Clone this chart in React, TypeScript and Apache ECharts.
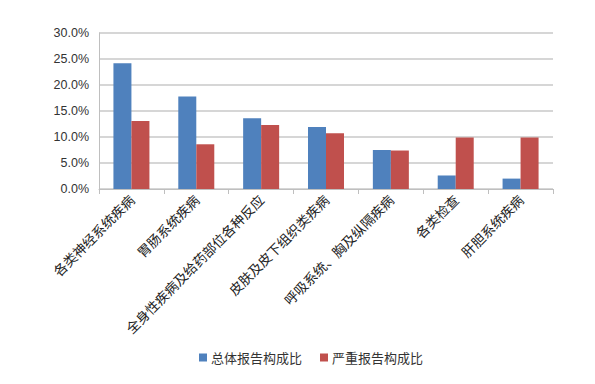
import React, { useEffect, useRef } from "react";
import * as echarts from "echarts";

const categories = [
  "各类神经系统疾病",
  "胃肠系统疾病",
  "全身性疾病及给药部位各种反应",
  "皮肤及皮下组织类疾病",
  "呼吸系统、胸及纵隔疾病",
  "各类检查",
  "肝胆系统疾病",
];
const overallRatio = [24.2, 17.8, 13.6, 11.9, 7.5, 2.6, 2.0];
const seriousRatio = [13.1, 8.6, 12.3, 10.7, 7.4, 9.9, 9.9];
const seriesNames = ["总体报告构成比", "严重报告构成比"];

export default function App() {
  const ref = useRef<HTMLDivElement>(null);
  useEffect(() => {
    if (!ref.current) return;
    const chart = echarts.init(ref.current, undefined, { renderer: "svg" });
    chart.setOption({
      animation: false,
      grid: { left: 99, right: 42, top: 33, bottom: 195, containLabel: false },
      legend: {
        bottom: 15,
        left: 194,
        itemWidth: 8,
        itemHeight: 8,
        itemGap: 18,
        icon: "rect",
        textStyle: { fontSize: 13, color: "#333", fontFamily: "Noto Sans CJK SC", padding: [0, 0, 0, -1] },
        data: seriesNames,
      },
      xAxis: {
        type: "category",
        data: categories,
        axisLine: { lineStyle: { color: "#bfbfbf", width: 1 } },
        axisTick: { show: true, alignWithLabel: false, length: 5, lineStyle: { color: "#bfbfbf" } },
        axisLabel: {
          rotate: 45,
          interval: 0,
          fontSize: 13.5,
          color: "#222",
          fontFamily: "Noto Sans CJK SC",
          margin: 8,
        },
      },
      yAxis: {
        type: "value",
        min: 0,
        max: 30,
        interval: 5,
        axisLine: { show: true, lineStyle: { color: "#bfbfbf" } },
        axisTick: { show: false },
        splitLine: { lineStyle: { color: "#c8c8c8", width: 1.5 } },
        axisLabel: {
          formatter: (v: number) => v.toFixed(1) + "%",
          fontSize: 12.5,
          color: "#333",
          fontFamily: "Liberation Sans",
          margin: 10,
        },
      },
      series: [
        {
          name: seriesNames[0],
          type: "bar",
          data: overallRatio,
          barWidth: 18,
          barGap: "0%",
          itemStyle: { color: "#4F81BD" },
        },
        {
          name: seriesNames[1],
          type: "bar",
          data: seriousRatio,
          barWidth: 18,
          barGap: "0%",
          itemStyle: { color: "#C0504D" },
        },
      ],
    });
    return () => chart.dispose();
  }, []);
  return (
    <div
      ref={ref}
      style={{ position: "absolute", left: 0, top: 0, width: 595, height: 384 }}
    />
  );
}
